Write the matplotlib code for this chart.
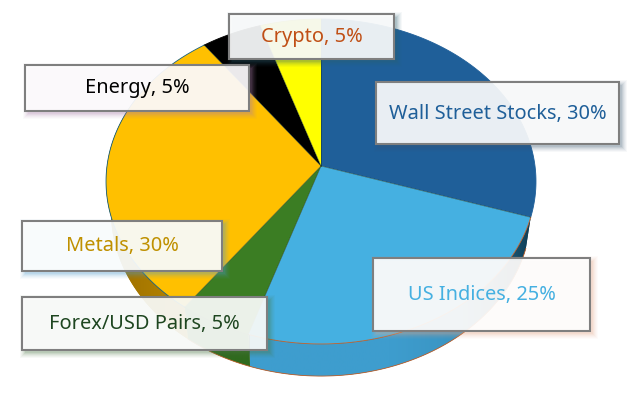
import matplotlib
matplotlib.use('Agg')
import matplotlib.pyplot as plt
import numpy as np
from matplotlib.colors import LinearSegmentedColormap
from matplotlib.patches import Rectangle

plt.rcParams['font.family'] = ['Noto Sans', 'DejaVu Sans']

# Chart data, clockwise from 12 o'clock
categories = ['Wall Street Stocks', 'US Indices', 'Forex/USD Pairs', 'Metals', 'Energy', 'Crypto']
shares = [30, 25, 5, 30, 5, 5]
colors = ['#1F5F99', '#45B0E1', '#3B7D23', '#FFC000', '#000000', '#FFFF00']
rim_colors = ['#1F5F99', '#C0622D', '#2b5c1a', '#156082', '#000000', '#cccc00']
text_colors = ['#1F5F99', '#45B0E1', '#1E4620', '#BF9000', '#000000', '#C04F15']
shadow_colors = ['#3d5a73', '#E8A888', '#4c7a45', '#4f9fd0', '#B080B0', '#2f5f70']

# label boxes in pixels: left, top, right, bottom
boxes = [(376, 82, 619, 144), (373, 258, 590, 331), (22, 297, 267, 350),
         (22, 221, 222, 271), (25, 65, 249, 111), (229, 14, 394, 59)]

# perspective pie: apex in pixels, tilt, half axes
apex = (321, 166)
tilt = 0.0953
top_axes = (214, 161)
rim_y = 197
rim_axes = (209, 162)


def project(t, y0, axes):
    u, v = np.sin(t), -np.cos(t)
    w = 1 - tilt * v
    return apex[0] + axes[0] * u / w, y0 + axes[1] * v / w


def arc(a0, a1, y0, axes):
    t = np.radians(np.linspace(a0, a1, 120))
    return project(t, y0, axes)


def side_path(a0, a1):
    x1, y1 = arc(a0, a1, apex[1], top_axes)
    x2, y2 = arc(a1, a0, rim_y, rim_axes)
    return np.r_[x1, x2], np.r_[y1, y2]


fig = plt.figure(figsize=(6.42, 3.96), dpi=100)
ax = fig.add_axes([0, 0, 1, 1])
ax.set_xlim(0, 642)
ax.set_ylim(396, 0)
ax.axis('off')

bounds = np.cumsum([0] + shares) * 3.6

# side wall, only the front part shows
side_grads = {
    1: (['#3E9DCE', '#3E9DCE', '#3E9DCE', '#3A94C2', '#0f3d55'], 250, 531),
    2: (['#2f6a1e', '#2f6a1e'], 180, 255),
    3: (['#9a6e00', '#B98600'], 105, 190),
}
for i, (stops, x0, x1) in side_grads.items():
    a1 = min(bounds[i + 1], 300)
    xs, ys = side_path(bounds[i], a1)
    poly = ax.fill(xs, ys, color=stops[-1], lw=0, zorder=1)[0]
    cmap = LinearSegmentedColormap.from_list('side', stops)
    img = ax.imshow(np.linspace(0, 1, 128).reshape(1, -1), cmap=cmap, extent=(x0, x1, 396, 0),
                    aspect='auto', zorder=1.5)
    img.set_clip_path(poly)

rx, ry = arc(bounds[1], bounds[3], rim_y, rim_axes)
ax.plot(rx, ry, color='#C0622D', lw=0.6, zorder=2)

# top face
for i in range(len(shares)):
    x, y = arc(bounds[i], bounds[i + 1], apex[1], top_axes)
    ax.fill(np.r_[apex[0], x], np.r_[apex[1], y], color=colors[i], lw=0, zorder=3)
    ax.plot(x, y, color=rim_colors[i], lw=0.6, zorder=3.2)
    # seams between slices are just a darker hairline
    ax.plot([apex[0], x[0]], [apex[1], y[0]], color='#123018', lw=0.5, alpha=0.6, zorder=3.3)

ax.set_xlim(0, 642)
ax.set_ylim(396, 0)

# data labels with soft shadow
for name, share, box, tc, sc in zip(categories, shares, boxes, text_colors, shadow_colors):
    l, t, r, b = box
    for grow, alpha in zip([5, 4, 3, 2, 1, 0], [0.04, 0.05, 0.06, 0.08, 0.10, 0.12]):
        ax.add_patch(Rectangle((l + 3 - grow, t + 3 - grow), r - l + 2 * grow, b - t + 2 * grow,
                               fc=sc, ec='none', alpha=alpha, zorder=4))
    ax.add_patch(Rectangle((l, t), r - l, b - t, fc=(1, 1, 1, 0.9), ec='#7F7F7F', lw=1.5, zorder=5))
    ax.text((l + r) / 2, (t + b) / 2 + 0.5, f'{name}, {share}%', color=tc, fontsize=14.4,
            ha='center', va='center', zorder=6)

fig.savefig('out.png', dpi=100)
